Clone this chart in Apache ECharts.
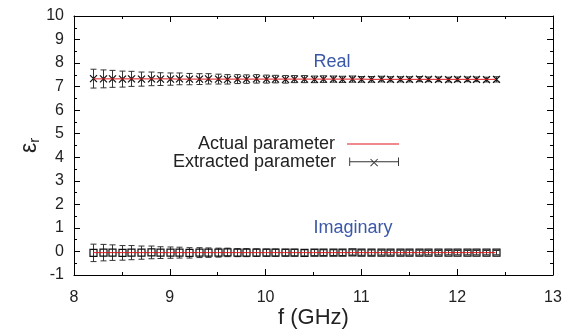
<!DOCTYPE html>
<html>
<head>
<meta charset="utf-8">
<script src="https://cdn.jsdelivr.net/npm/echarts@6/dist/echarts.min.js"></script>
<style>
  html, body { margin: 0; padding: 0; background: #fff; }
  #chart { width: 566px; height: 329px; }
</style>
</head>
<body>
<div id="chart"></div>
<script>
// 频率点 (GHz)
var freq = [
  8.2, 8.3, 8.4, 8.5, 8.6, 8.7, 8.8, 8.9, 9.0,
  9.1, 9.2, 9.3, 9.4, 9.5, 9.6, 9.7, 9.8, 9.9, 10.0,
  10.1, 10.2, 10.3, 10.4, 10.5, 10.6, 10.7, 10.8, 10.9, 11.0,
  11.1, 11.2, 11.3, 11.4, 11.5, 11.6, 11.7, 11.8, 11.9, 12.0,
  12.1, 12.2, 12.3, 12.4
]
// 实部
var realActual = [
  7.33, 7.33, 7.33, 7.33, 7.33, 7.33, 7.33, 7.33, 7.33,
  7.32, 7.32, 7.32, 7.32, 7.32, 7.32, 7.32, 7.32, 7.32, 7.32,
  7.32, 7.32, 7.32, 7.32, 7.32, 7.32, 7.32, 7.32, 7.32, 7.32,
  7.31, 7.31, 7.31, 7.31, 7.31, 7.31, 7.31, 7.31, 7.31, 7.31,
  7.31, 7.31, 7.31, 7.31
]
var realExtracted = [
  7.34, 7.33, 7.33, 7.32, 7.33, 7.32, 7.33, 7.32, 7.32,
  7.33, 7.32, 7.32, 7.33, 7.32, 7.31, 7.32, 7.32, 7.33, 7.32,
  7.32, 7.31, 7.32, 7.32, 7.31, 7.32, 7.32, 7.31, 7.32, 7.31,
  7.31, 7.32, 7.31, 7.31, 7.31, 7.32, 7.31, 7.31, 7.30, 7.31,
  7.31, 7.31, 7.30, 7.31
]
var realErr = [
  0.40, 0.38, 0.36, 0.34, 0.32, 0.30, 0.29, 0.27, 0.26,
  0.25, 0.24, 0.23, 0.22, 0.21, 0.20, 0.19, 0.18, 0.18, 0.17,
  0.16, 0.16, 0.15, 0.15, 0.14, 0.14, 0.13, 0.13, 0.13, 0.12,
  0.12, 0.12, 0.11, 0.11, 0.11, 0.11, 0.10, 0.10, 0.10, 0.10,
  0.10, 0.10, 0.10, 0.11
]
// 虚部
var imagActual = [
  -0.05, -0.05, -0.05, -0.05, -0.05, -0.05, -0.05, -0.05, -0.05,
  -0.05, -0.05, -0.05, -0.05, -0.05, -0.05, -0.05, -0.05, -0.05, -0.05,
  -0.05, -0.05, -0.05, -0.05, -0.05, -0.05, -0.05, -0.05, -0.05, -0.05,
  -0.05, -0.05, -0.05, -0.05, -0.05, -0.05, -0.05, -0.05, -0.05, -0.05,
  -0.05, -0.05, -0.05, -0.05
]
var imagExtracted = [
  -0.06, -0.05, -0.05, -0.06, -0.05, -0.05, -0.04, -0.05, -0.05,
  -0.05, -0.06, -0.05, -0.05, -0.05, -0.04, -0.05, -0.05, -0.05, -0.05,
  -0.05, -0.05, -0.05, -0.06, -0.05, -0.05, -0.05, -0.05, -0.04, -0.05,
  -0.05, -0.05, -0.05, -0.05, -0.05, -0.05, -0.05, -0.05, -0.05, -0.05,
  -0.05, -0.05, -0.05, -0.05
]
var imagErr = [
  0.37, 0.35, 0.33, 0.31, 0.30, 0.28, 0.27, 0.25, 0.24,
  0.23, 0.22, 0.21, 0.20, 0.19, 0.18, 0.17, 0.17, 0.16, 0.15,
  0.15, 0.14, 0.14, 0.13, 0.13, 0.12, 0.12, 0.12, 0.11, 0.11,
  0.11, 0.10, 0.10, 0.10, 0.10, 0.10, 0.09, 0.09, 0.09, 0.09,
  0.09, 0.09, 0.09, 0.09
]

var FONT = "'Liberation Sans', Arial, sans-serif"
var INK = '#222'
var RED = '#e0191e'

function pairs(ys) {
  return freq.map(function (f, i) { return [f, ys[i]] })
}
function triples(ys, es) {
  return freq.map(function (f, i) { return [f, ys[i], es[i]] })
}

// 误差棒 + 标记 (cross 或 box)
function errorBar(marker) {
  return function (params, api) {
    var x = api.value(0), y = api.value(1), e = api.value(2)
    var c = api.coord([x, y])
    var lo = api.coord([x, y - e])
    var hi = api.coord([x, y + e])
    var cx = Math.round(c[0]) + 0.5
    var st = { stroke: '#333', lineWidth: 1, fill: null }
    var cap = 3
    var kids = [
      { type: 'line', shape: { x1: cx, y1: lo[1], x2: cx, y2: hi[1] }, style: st },
      { type: 'line', shape: { x1: cx - cap, y1: lo[1], x2: cx + cap, y2: lo[1] }, style: st },
      { type: 'line', shape: { x1: cx - cap, y1: hi[1], x2: cx + cap, y2: hi[1] }, style: st }
    ]
    if (marker === 'cross') {
      var s = 3.5
      var ms = { stroke: '#111', lineWidth: 1.2 }
      kids.push({ type: 'line', shape: { x1: cx - s, y1: c[1] - s, x2: cx + s, y2: c[1] + s }, style: ms })
      kids.push({ type: 'line', shape: { x1: cx - s, y1: c[1] + s, x2: cx + s, y2: c[1] - s }, style: ms })
    } else {
      var b = 3.5
      kids.push({ type: 'rect', shape: { x: cx - b, y: c[1] - b, width: 2 * b, height: 2 * b },
        style: { stroke: '#111', lineWidth: 1.2, fill: null } })
    }
    return { type: 'group', children: kids }
  }
}

var tickStyle = {
  axisLine: { show: true, onZero: false, lineStyle: { color: '#000', width: 1 } },
  axisTick: { show: true, inside: true, length: 6, lineStyle: { color: '#000' } },
  minorTick: { show: true, splitNumber: 2, length: 3, lineStyle: { color: '#000' } },
  splitLine: { show: false },
  minorSplitLine: { show: false }
}

function ax(extra) {
  return Object.assign({}, tickStyle, extra)
}

var barIcon = 'path://M0,4h52v1H0z M0,0h1v9H0z M51,0h1v9h-1z ' +
  'M22.6,1.2l7.5,7.5l-0.7,0.7l-7.5,-7.5z M29.4,1.2l0.7,0.7l-7.5,7.5l-0.7,-0.7z'

var legendText = { fontSize: 18, color: INK, fontFamily: FONT, lineHeight: 18, padding: [0, 7, 0, 0] }

var option = {
  animation: false,
  backgroundColor: '#fff',
  textStyle: { fontFamily: FONT },
  grid: { left: 74, right: 13, top: 16, bottom: 54, outerBoundsMode: 'none', containLabel: false },
  xAxis: [
    ax({
      type: 'value', min: 8, max: 13, interval: 1,
      name: 'f (GHz)', nameLocation: 'middle', nameGap: 32, nameMoveOverlap: false,
      nameTextStyle: { fontSize: 22, color: INK, fontFamily: FONT },
      axisLabel: { fontSize: 16, color: INK, margin: 15, fontFamily: FONT }
    }),
    ax({
      type: 'value', min: 8, max: 13, interval: 1, position: 'top',
      axisLabel: { show: false }
    })
  ],
  yAxis: [
    ax({
      type: 'value', min: -1, max: 10, interval: 1,
      name: '{e|ε}{r|r}', nameLocation: 'middle', nameGap: 32, nameRotate: 90, nameMoveOverlap: false,
      nameTextStyle: {
        color: INK, fontFamily: FONT,
        rich: {
          e: { fontSize: 23, color: INK, fontFamily: FONT },
          r: { fontSize: 15, color: INK, fontFamily: FONT, padding: [10, 0, 0, 0] }
        }
      },
      axisLabel: { fontSize: 16, color: INK, margin: 10, fontFamily: FONT }
    }),
    ax({
      type: 'value', min: -1, max: 10, interval: 1, position: 'right',
      axisLabel: { show: false }
    })
  ],
  legend: [
    {
      data: [{ name: 'Actual parameter', icon: 'rect' }],
      right: 167, top: 135, padding: 0, align: 'right',
      itemWidth: 52, itemHeight: 1,
      itemStyle: { color: RED },
      textStyle: legendText
    },
    {
      data: [{ name: 'Extracted parameter', icon: barIcon }],
      right: 167, top: 153, padding: 0, align: 'right',
      itemWidth: 52, itemHeight: 9,
      itemStyle: { color: '#333' },
      textStyle: legendText
    }
  ],
  graphic: [
    { type: 'text', x: 332, y: 62, style: { text: 'Real', fontSize: 18, fontFamily: FONT, fill: '#3b58a8', align: 'center', verticalAlign: 'middle' } },
    { type: 'text', x: 353, y: 228, style: { text: 'Imaginary', fontSize: 18, fontFamily: FONT, fill: '#3b58a8', align: 'center', verticalAlign: 'middle' } }
  ],
  series: [
    {
      name: 'Extracted parameter', type: 'custom',
      renderItem: errorBar('cross'),
      itemStyle: { color: '#333' },
      data: triples(realExtracted, realErr), z: 2
    },
    {
      name: 'Extracted parameter', type: 'custom',
      renderItem: errorBar('box'),
      itemStyle: { color: '#333' },
      data: triples(imagExtracted, imagErr), z: 2
    },
    {
      name: 'Actual parameter', type: 'line', symbol: 'none',
      lineStyle: { color: RED, width: 1 }, itemStyle: { color: RED },
      data: pairs(realActual), z: 3
    },
    {
      name: 'Actual parameter', type: 'line', symbol: 'none',
      lineStyle: { color: RED, width: 1 }, itemStyle: { color: RED },
      data: pairs(imagActual), z: 3
    }
  ]
}

var mCharts = echarts.init(document.getElementById('chart'))
mCharts.setOption(option)
</script>
</body>
</html>
